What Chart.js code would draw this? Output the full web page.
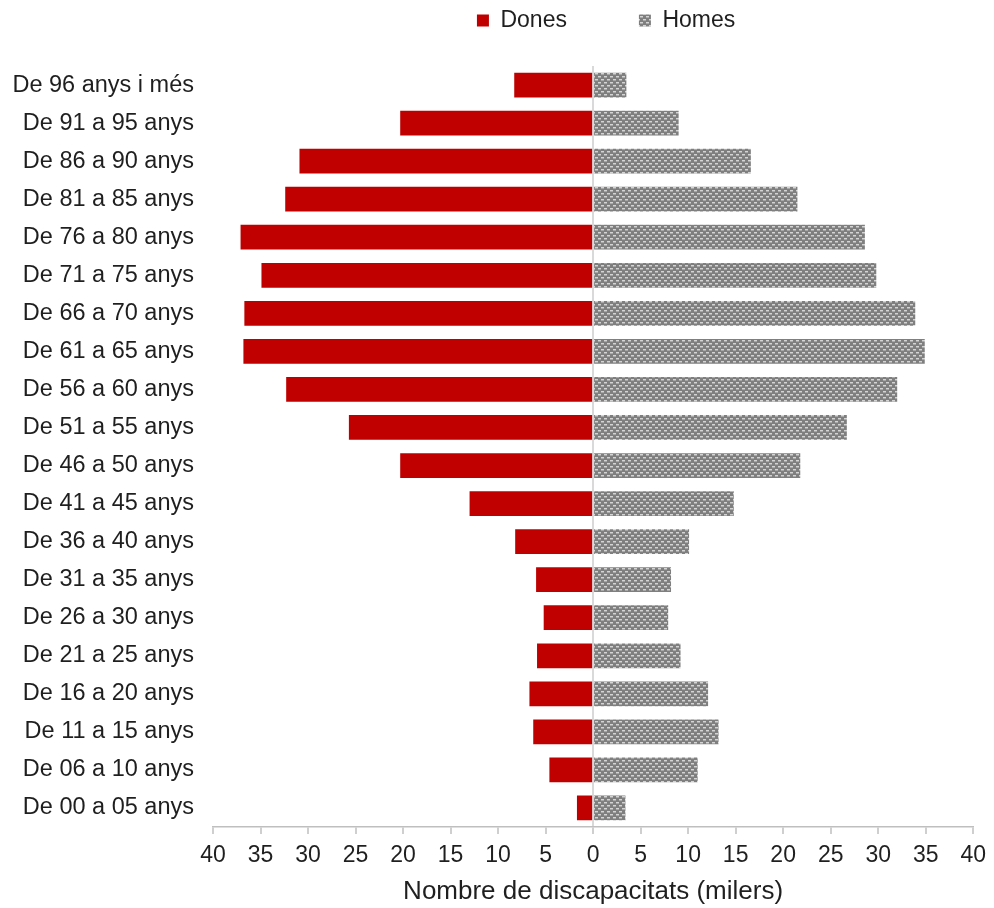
<!DOCTYPE html>
<html>
<head>
<meta charset="utf-8">
<script src="https://cdn.jsdelivr.net/npm/chart.js@4.4.1/dist/chart.umd.min.js"></script>
<style>
  html, body { margin: 0; padding: 0; background: #fff; }
  #wrap { width: 994px; height: 908px; }
</style>
</head>
<body>
<div id="wrap"><canvas id="pyramid"></canvas></div>
<script>
// age groups, top to bottom as in the picture
const ageGroups = ['De 96 anys i més', 'De 91 a 95 anys', 'De 86 a 90 anys', 'De 81 a 85 anys',
  'De 76 a 80 anys', 'De 71 a 75 anys', 'De 66 a 70 anys', 'De 61 a 65 anys', 'De 56 a 60 anys',
  'De 51 a 55 anys', 'De 46 a 50 anys', 'De 41 a 45 anys', 'De 36 a 40 anys', 'De 31 a 35 anys',
  'De 26 a 30 anys', 'De 21 a 25 anys', 'De 16 a 20 anys', 'De 11 a 15 anys', 'De 06 a 10 anys',
  'De 00 a 05 anys'];

// thousands of people
const dones = [8.3, 20.3, 30.9, 32.4, 37.1, 34.9, 36.7, 36.8, 32.3, 25.7,
  20.3, 13.0, 8.2, 6.0, 5.2, 5.9, 6.7, 6.3, 4.6, 1.7];
const homes = [3.5, 9.0, 16.6, 21.5, 28.6, 29.8, 33.9, 34.9, 32.0, 26.7,
  21.8, 14.8, 10.1, 8.2, 7.9, 9.2, 12.1, 13.2, 11.0, 3.4];

const xMin = -40, xMax = 40, xStep = 5;

// dotted grey fill for the men's bars
function dotPattern() {
  const c = document.createElement('canvas');
  c.width = 6; c.height = 6;
  const g = c.getContext('2d');
  g.fillStyle = '#7f7f7f';
  g.fillRect(0, 0, 6, 6);
  g.fillStyle = '#d4d4d4';
  g.fillRect(1, 1, 3, 1);
  g.fillRect(4, 4, 2, 1);
  g.fillRect(0, 4, 1, 1);
  g.fillStyle = '#a8a8a8';
  g.fillRect(1, 2, 3, 1);
  g.fillRect(4, 5, 2, 1);
  g.fillRect(0, 5, 1, 1);
  return g.createPattern(c, 'repeat');
}

const textColor = '#1f1f1f';
const font = 'Liberation Sans, Arial, sans-serif';

// legend sits higher, gets the gap between items via padding, and is nudged right
const legendTweak = {
  id: 'legendTweak',
  afterInit(chart) {
    const fit = chart.legend.fit;
    chart.legend.fit = function () {
      fit.call(this);
      this.height = 129;
    };
  },
  afterLayout(chart) {
    chart.legend.left += 13;
    chart.legend.right += 13;
  }
};

new Chart(document.getElementById('pyramid'), {
  type: 'bar',
  data: {
    labels: ageGroups,
    datasets: [
      {
        label: 'Dones',
        data: dones.map(v => -v),
        backgroundColor: '#c00000',
        borderWidth: 0
      },
      {
        label: 'Homes',
        data: homes,
        backgroundColor: dotPattern(),
        borderWidth: 0
      }
    ]
  },
  options: {
    indexAxis: 'y',
    responsive: true,
    maintainAspectRatio: false,
    animation: false,
    layout: { padding: { top: -63, right: 19, left: 1, bottom: 0 } },
    datasets: { bar: { barPercentage: 0.65, categoryPercentage: 1 } },
    scales: {
      x: {
        stacked: true,
        min: xMin,
        max: xMax,
        afterFit: s => { s.height = 81; },
        ticks: {
          stepSize: xStep,
          padding: 8,
          color: textColor,
          font: { family: font, size: 23 },
          callback: v => Math.abs(v)
        },
        grid: {
          color: c => (c.tick && c.tick.value === 0 ? '#d9d9d9' : 'rgba(0,0,0,0)'),
          lineWidth: 2,
          tickColor: '#bfbfbf',
          tickLength: 7,
          tickWidth: 1.5
        },
        border: { display: true, color: '#bfbfbf', width: 1.5 },
        title: {
          display: true,
          text: 'Nombre de discapacitats (milers)',
          color: textColor,
          font: { family: font, size: 26 },
          padding: { top: 0, bottom: 1 }
        }
      },
      y: {
        stacked: true,
        afterFit: s => { s.width = 212; },
        grid: { display: false, drawTicks: false },
        border: { display: false },
        ticks: {
          padding: 19,
          color: textColor,
          font: { family: font, size: 23.5 }
        }
      }
    },
    plugins: {
      legend: {
        position: 'top',
        fullSize: false,
        labels: {
          boxWidth: 12,
          boxHeight: 12,
          padding: 72,
          color: textColor,
          font: { family: font, size: 23 }
        }
      },
      tooltip: { enabled: false }
    }
  },
  plugins: [legendTweak]
});
</script>
</body>
</html>
